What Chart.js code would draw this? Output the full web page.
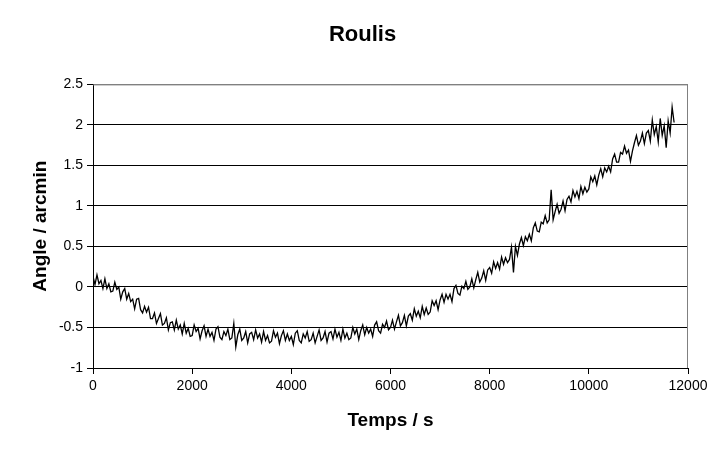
<!DOCTYPE html>
<html>
<head>
<meta charset="utf-8">
<script src="https://cdn.jsdelivr.net/npm/chart.js@4/dist/chart.umd.min.js"></script>
<style>
  html, body { margin: 0; padding: 0; background: #fff; }
  #wrap { width: 725px; height: 453px; }
</style>
</head>
<body>
<div id="wrap"><canvas id="roulisChart"></canvas></div>
<script>
const timeStep = 40; // s between samples
const angleValues = [
  0.13, 0.03, 0.15, 0.04, 0.08, -0.02, 0.10, -0.02, 0.04, -0.06,
  -0.05, 0.06, -0.03, 0.00, -0.15, -0.06, -0.02, -0.15, -0.08, -0.18,
  -0.15, -0.27, -0.15, -0.14, -0.28, -0.32, -0.24, -0.31, -0.25, -0.39,
  -0.39, -0.32, -0.45, -0.39, -0.33, -0.47, -0.45, -0.38, -0.53, -0.44,
  -0.43, -0.53, -0.41, -0.52, -0.47, -0.58, -0.45, -0.57, -0.51, -0.61,
  -0.60, -0.47, -0.55, -0.51, -0.64, -0.54, -0.48, -0.61, -0.52, -0.61,
  -0.56, -0.66, -0.52, -0.49, -0.62, -0.65, -0.55, -0.60, -0.52, -0.65,
  -0.63, -0.45, -0.74, -0.59, -0.52, -0.66, -0.63, -0.55, -0.69, -0.58,
  -0.56, -0.65, -0.53, -0.63, -0.58, -0.68, -0.55, -0.66, -0.60, -0.69,
  -0.67, -0.54, -0.62, -0.57, -0.70, -0.60, -0.54, -0.66, -0.58, -0.66,
  -0.61, -0.71, -0.57, -0.54, -0.66, -0.69, -0.58, -0.63, -0.55, -0.67,
  -0.65, -0.57, -0.69, -0.61, -0.53, -0.66, -0.63, -0.55, -0.68, -0.57,
  -0.55, -0.64, -0.52, -0.62, -0.56, -0.66, -0.52, -0.63, -0.57, -0.65,
  -0.63, -0.50, -0.58, -0.52, -0.65, -0.54, -0.47, -0.59, -0.50, -0.57,
  -0.52, -0.61, -0.47, -0.43, -0.54, -0.57, -0.46, -0.50, -0.42, -0.53,
  -0.50, -0.41, -0.52, -0.43, -0.35, -0.48, -0.44, -0.35, -0.48, -0.36,
  -0.33, -0.41, -0.27, -0.36, -0.30, -0.38, -0.24, -0.34, -0.26, -0.34,
  -0.31, -0.17, -0.23, -0.17, -0.28, -0.16, -0.09, -0.19, -0.09, -0.15,
  -0.09, -0.18, -0.02, 0.02, -0.08, -0.10, 0.01, -0.02, 0.07, -0.03,
  0.00, 0.10, -0.01, 0.09, 0.18, 0.06, 0.11, 0.20, 0.08, 0.21,
  0.24, 0.17, 0.31, 0.23, 0.30, 0.22, 0.37, 0.28, 0.36, 0.30,
  0.34, 0.49, 0.18, 0.50, 0.39, 0.53, 0.61, 0.51, 0.62, 0.57,
  0.65, 0.57, 0.73, 0.79, 0.69, 0.68, 0.80, 0.78, 0.88, 0.79,
  0.83, 1.20, 0.83, 0.93, 1.02, 0.91, 0.96, 1.06, 0.94, 1.08,
  1.12, 1.05, 1.19, 1.11, 1.18, 1.09, 1.24, 1.15, 1.23, 1.17,
  1.21, 1.36, 1.30, 1.37, 1.26, 1.38, 1.46, 1.36, 1.47, 1.42,
  1.49, 1.42, 1.58, 1.64, 1.54, 1.54, 1.66, 1.64, 1.74, 1.65,
  1.69, 1.55, 1.68, 1.78, 1.87, 1.75, 1.80, 1.90, 1.77, 1.90,
  1.93, 1.80, 2.06, 1.88, 1.98, 1.79, 2.08, 1.87, 1.99, 1.72,
  2.05, 1.90, 2.22, 2.03
];
const xTicks = [0, 2000, 4000, 6000, 8000, 10000, 12000];
const yTicks = [-1, -0.5, 0, 0.5, 1, 1.5, 2, 2.5];

const points = angleValues.map((v, i) => ({ x: i * timeStep, y: v }));

const fontFamily = "'Liberation Sans', Arial, sans-serif";

// grey frame on the top and right of the plot area
const frame = {
  id: "frame",
  afterDraw(chart) {
    const { ctx, chartArea: a } = chart;
    ctx.save();
    ctx.strokeStyle = "#808080";
    ctx.lineWidth = 1;
    ctx.beginPath();
    ctx.moveTo(a.left, a.top + 0.5);
    ctx.lineTo(a.right - 0.5, a.top + 0.5);
    ctx.lineTo(a.right - 0.5, a.bottom);
    ctx.stroke();
    ctx.restore();
  }
};

const ctx = document.getElementById("roulisChart").getContext("2d");
new Chart(ctx, {
  type: "line",
  data: {
    datasets: [{
      data: points,
      borderColor: "#000",
      borderWidth: 1.3,
      pointRadius: 0,
      tension: 0,
      fill: false
    }]
  },
  options: {
    responsive: true,
    maintainAspectRatio: false,
    animation: false,
    layout: { padding: 0 },
    plugins: {
      legend: { display: false },
      tooltip: { enabled: false },
      title: {
        display: true,
        text: "Roulis",
        color: "#000",
        font: { family: fontFamily, size: 22, weight: "bold" },
        padding: { top: 22, bottom: 36 }
      }
    },
    scales: {
      x: {
        type: "linear",
        min: 0,
        max: 12000,
        afterBuildTicks: (s) => { s.ticks = xTicks.map(v => ({ value: v })); },
        afterFit: (s) => { s.height = 85; },
        border: { color: "#000", width: 1 },
        grid: { drawOnChartArea: false, tickLength: 6, tickColor: "#000" },
        ticks: {
          color: "#000",
          padding: 4,
          maxRotation: 0,
          font: { family: fontFamily, size: 14 },
          callback: (v) => String(v)
        },
        title: {
          display: true,
          text: "Temps / s",
          color: "#000",
          font: { family: fontFamily, size: 19, weight: "bold" },
          padding: { top: 0, bottom: 21 }
        }
      },
      y: {
        min: -1,
        max: 2.5,
        afterBuildTicks: (s) => { s.ticks = yTicks.map(v => ({ value: v })); },
        afterFit: (s) => { s.width = 93; },
        border: { color: "#000", width: 1 },
        grid: {
          color: (c) => (c.tick && c.tick.value === 2.5 ? "#808080" : "#000"),
          tickColor: "#000",
          tickLength: 6
        },
        ticks: {
          color: "#000",
          padding: 4,
          font: { family: fontFamily, size: 14 },
          callback: (v) => String(v)
        },
        title: {
          display: true,
          text: "Angle / arcmin",
          color: "#000",
          font: { family: fontFamily, size: 19, weight: "bold" },
          padding: { top: 29, bottom: 0 }
        }
      },
      // empty right-hand gutter so the title stays centred on the page
      gutter: {
        position: "right",
        min: -1,
        max: 2.5,
        afterFit: (s) => { s.width = 37; },
        border: { display: false },
        grid: { display: false },
        ticks: { display: false }
      }
    }
  },
  plugins: [frame]
});
</script>
</body>
</html>
